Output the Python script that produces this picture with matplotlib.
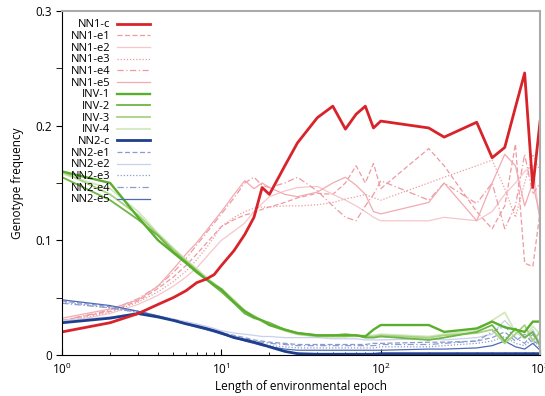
import matplotlib.pyplot as plt
import matplotlib.ticker as mticker
import numpy as np

plt.rcParams['font.family'] = ['Open Sans', 'DejaVu Sans']

# epoch lengths
x = [1, 2, 3, 4, 5, 6, 7, 8, 9, 10, 12, 14, 16, 18, 20, 25, 30, 40, 50, 60, 70,
     80, 90, 100, 200, 250, 400, 500, 600, 700, 800, 900, 1000]

nn1_c = [0.020, 0.028, 0.036, 0.044, 0.050, 0.056, 0.063, 0.066, 0.070, 0.078, 0.091,
         0.105, 0.120, 0.146, 0.140, 0.165, 0.185, 0.207, 0.217, 0.197, 0.210, 0.217,
         0.198, 0.204, 0.198, 0.190, 0.203, 0.172, 0.181, 0.216, 0.246, 0.146, 0.204]
nn1_e1 = [0.030, 0.038, 0.047, 0.058, 0.068, 0.078, 0.088, 0.097, 0.105, 0.112, 0.118,
          0.122, 0.124, 0.127, 0.129, 0.133, 0.137, 0.141, 0.140, 0.150, 0.165, 0.150,
          0.167, 0.145, 0.180, 0.165, 0.125, 0.110, 0.130, 0.184, 0.080, 0.077, 0.125]
nn1_e2 = [0.028, 0.036, 0.044, 0.052, 0.060, 0.068, 0.076, 0.085, 0.093, 0.100, 0.108,
          0.115, 0.125, 0.132, 0.138, 0.143, 0.146, 0.147, 0.140, 0.135, 0.130, 0.125,
          0.120, 0.117, 0.117, 0.120, 0.117, 0.125, 0.140, 0.150, 0.160, 0.165, 0.115]
nn1_e3 = [0.029, 0.037, 0.046, 0.055, 0.064, 0.073, 0.083, 0.093, 0.103, 0.112, 0.120,
          0.125, 0.128, 0.129, 0.129, 0.130, 0.130, 0.131, 0.133, 0.136, 0.138, 0.140,
          0.137, 0.135, 0.150, 0.155, 0.165, 0.170, 0.145, 0.120, 0.150, 0.175, 0.160]
nn1_e4 = [0.030, 0.039, 0.049, 0.060, 0.072, 0.084, 0.096, 0.106, 0.115, 0.123, 0.137,
          0.150, 0.155, 0.148, 0.146, 0.150, 0.155, 0.143, 0.130, 0.120, 0.117, 0.130,
          0.140, 0.152, 0.135, 0.150, 0.132, 0.150, 0.110, 0.130, 0.175, 0.140, 0.150]
nn1_e5 = [0.032, 0.040, 0.048, 0.060, 0.075, 0.088, 0.098, 0.108, 0.117, 0.125, 0.140,
          0.152, 0.145, 0.150, 0.146, 0.140, 0.138, 0.142, 0.150, 0.155, 0.148, 0.140,
          0.125, 0.123, 0.133, 0.150, 0.117, 0.150, 0.175, 0.165, 0.130, 0.150, 0.120]

inv_1 = [0.160, 0.150, 0.120, 0.100, 0.089, 0.080, 0.072, 0.066, 0.061, 0.057, 0.046,
         0.038, 0.033, 0.030, 0.026, 0.022, 0.019, 0.017, 0.017, 0.017, 0.017, 0.016,
         0.022, 0.026, 0.026, 0.020, 0.023, 0.029, 0.024, 0.022, 0.020, 0.029, 0.029]
inv_2 = [0.155, 0.135, 0.118, 0.104, 0.090, 0.081, 0.073, 0.066, 0.060, 0.055, 0.045,
         0.036, 0.032, 0.030, 0.028, 0.022, 0.019, 0.017, 0.017, 0.018, 0.017, 0.015,
         0.015, 0.016, 0.013, 0.015, 0.020, 0.026, 0.012, 0.023, 0.015, 0.020, 0.008]
inv_3 = [0.160, 0.140, 0.122, 0.105, 0.092, 0.082, 0.074, 0.067, 0.062, 0.057, 0.047,
         0.038, 0.034, 0.029, 0.026, 0.021, 0.018, 0.016, 0.016, 0.016, 0.017, 0.016,
         0.016, 0.017, 0.015, 0.017, 0.019, 0.022, 0.010, 0.018, 0.026, 0.012, 0.020]
inv_4 = [0.158, 0.145, 0.125, 0.106, 0.093, 0.083, 0.075, 0.068, 0.062, 0.058, 0.048,
         0.039, 0.034, 0.030, 0.027, 0.022, 0.019, 0.017, 0.016, 0.016, 0.016, 0.017,
         0.017, 0.018, 0.016, 0.018, 0.021, 0.030, 0.037, 0.020, 0.015, 0.025, 0.018]

nn2_c = [0.028, 0.032, 0.036, 0.033, 0.030, 0.027, 0.025, 0.023, 0.021, 0.019, 0.015,
         0.013, 0.011, 0.009, 0.007, 0.003, 0.001, 0.0005, 0.0005, 0.0005, 0.0005, 0.0005,
         0.0005, 0.001, 0.001, 0.001, 0.001, 0.001, 0.001, 0.001, 0.001, 0.001, 0.001]
nn2_e1 = [0.047, 0.042, 0.038, 0.034, 0.031, 0.028, 0.025, 0.023, 0.021, 0.019, 0.017,
          0.015, 0.013, 0.012, 0.011, 0.010, 0.009, 0.009, 0.009, 0.009, 0.009, 0.009,
          0.010, 0.010, 0.011, 0.011, 0.012, 0.015, 0.020, 0.012, 0.018, 0.010, 0.012]
nn2_e2 = [0.030, 0.033, 0.036, 0.034, 0.031, 0.029, 0.027, 0.025, 0.023, 0.021, 0.019,
          0.018, 0.017, 0.016, 0.016, 0.015, 0.015, 0.015, 0.014, 0.014, 0.014, 0.013,
          0.013, 0.013, 0.014, 0.013, 0.015, 0.018, 0.030, 0.020, 0.014, 0.022, 0.010]
nn2_e3 = [0.046, 0.041, 0.037, 0.033, 0.030, 0.027, 0.024, 0.022, 0.020, 0.018, 0.015,
          0.013, 0.011, 0.009, 0.008, 0.007, 0.006, 0.006, 0.006, 0.006, 0.006, 0.006,
          0.006, 0.007, 0.007, 0.008, 0.010, 0.012, 0.016, 0.010, 0.008, 0.014, 0.006]
nn2_e4 = [0.045, 0.041, 0.037, 0.034, 0.031, 0.028, 0.025, 0.023, 0.021, 0.019, 0.016,
          0.014, 0.012, 0.011, 0.010, 0.009, 0.008, 0.008, 0.008, 0.008, 0.008, 0.008,
          0.008, 0.009, 0.009, 0.010, 0.012, 0.020, 0.025, 0.015, 0.010, 0.018, 0.008]
nn2_e5 = [0.048, 0.043, 0.038, 0.034, 0.030, 0.027, 0.024, 0.022, 0.020, 0.018, 0.015,
          0.012, 0.010, 0.008, 0.007, 0.005, 0.004, 0.004, 0.004, 0.004, 0.004, 0.004,
          0.004, 0.004, 0.005, 0.005, 0.006, 0.008, 0.012, 0.007, 0.005, 0.010, 0.004]

labels = ['NN1-c', 'NN1-e1', 'NN1-e2', 'NN1-e3', 'NN1-e4', 'NN1-e5',
          'INV-1', 'INV-2', 'INV-3', 'INV-4',
          'NN2-c', 'NN2-e1', 'NN2-e2', 'NN2-e3', 'NN2-e4', 'NN2-e5']
series = [nn1_c, nn1_e1, nn1_e2, nn1_e3, nn1_e4, nn1_e5,
          inv_1, inv_2, inv_3, inv_4,
          nn2_c, nn2_e1, nn2_e2, nn2_e3, nn2_e4, nn2_e5]

# (color, width, style)
styles = [
    ('#d9232b', 2.0, '-'),
    ('#ee9aa2', 0.9, (0, (4, 2))),
    ('#f6c6cb', 0.9, '-'),
    ('#ee9aa2', 0.9, (0, (1, 1.5))),
    ('#ee9aa2', 0.9, (0, (5, 2, 1, 2))),
    ('#f2aab1', 0.9, '-'),
    ('#5aae2e', 1.7, '-'),
    ('#6db545', 1.3, '-'),
    ('#a9d283', 1.3, '-'),
    ('#d3e8c0', 1.3, '-'),
    ('#1e3f8e', 2.0, '-'),
    ('#8b9bd0', 0.9, (0, (4, 2))),
    ('#c9d0ea', 0.9, '-'),
    ('#8b9bd0', 0.9, (0, (1, 1.5))),
    ('#8b9bd0', 0.9, (0, (5, 2, 1, 2))),
    ('#4d6cb3', 0.9, '-'),
]

fig = plt.figure(figsize=(5.45, 3.96), dpi=100)
ax = fig.add_axes([0.114, 0.104, 0.877, 0.868])

# thin ones first, thick on top
order = [1, 2, 3, 4, 5, 11, 12, 13, 14, 15, 9, 8, 7, 6, 10, 0]
handles = {}
for i in order:
    c, lw, ls = styles[i]
    h, = ax.plot(x, series[i], color=c, lw=lw, ls=ls, label=labels[i])
    handles[i] = h

ax.set_xscale('log')
ax.set_xlim(1, 1000)
ax.set_ylim(0, 0.3)
ax.set_yticks([0, 0.1, 0.2, 0.3])
ax.set_yticks([0.05, 0.15, 0.25], minor=True)
ax.yaxis.set_major_formatter(mticker.FuncFormatter(lambda v, p: '0' if v == 0 else '%g' % v))
ax.tick_params(axis='y', which='both', direction='out', length=4, labelsize=8.5)
ax.tick_params(axis='x', which='major', direction='in', length=4, labelsize=8.5, pad=5)
ax.tick_params(axis='x', which='minor', direction='in', length=2)
ax.spines['top'].set_color('#aaaaaa')
ax.spines['right'].set_color('#aaaaaa')
ax.spines['top'].set_linewidth(1.5)
ax.spines['right'].set_linewidth(1.5)

ax.set_xlabel('Length of environmental epoch', fontsize=8.5, labelpad=2)
ax.set_ylabel('Genotype frequency', fontsize=8.5, labelpad=8)

leg = ax.legend([handles[i] for i in range(16)], labels, loc='upper left',
                bbox_to_anchor=(0.0, 1.0), markerfirst=False, frameon=False,
                fontsize=8, labelspacing=0.06, handlelength=3.0,
                handletextpad=0.6, borderaxespad=0.35)

fig.savefig('out.png', dpi=100)
